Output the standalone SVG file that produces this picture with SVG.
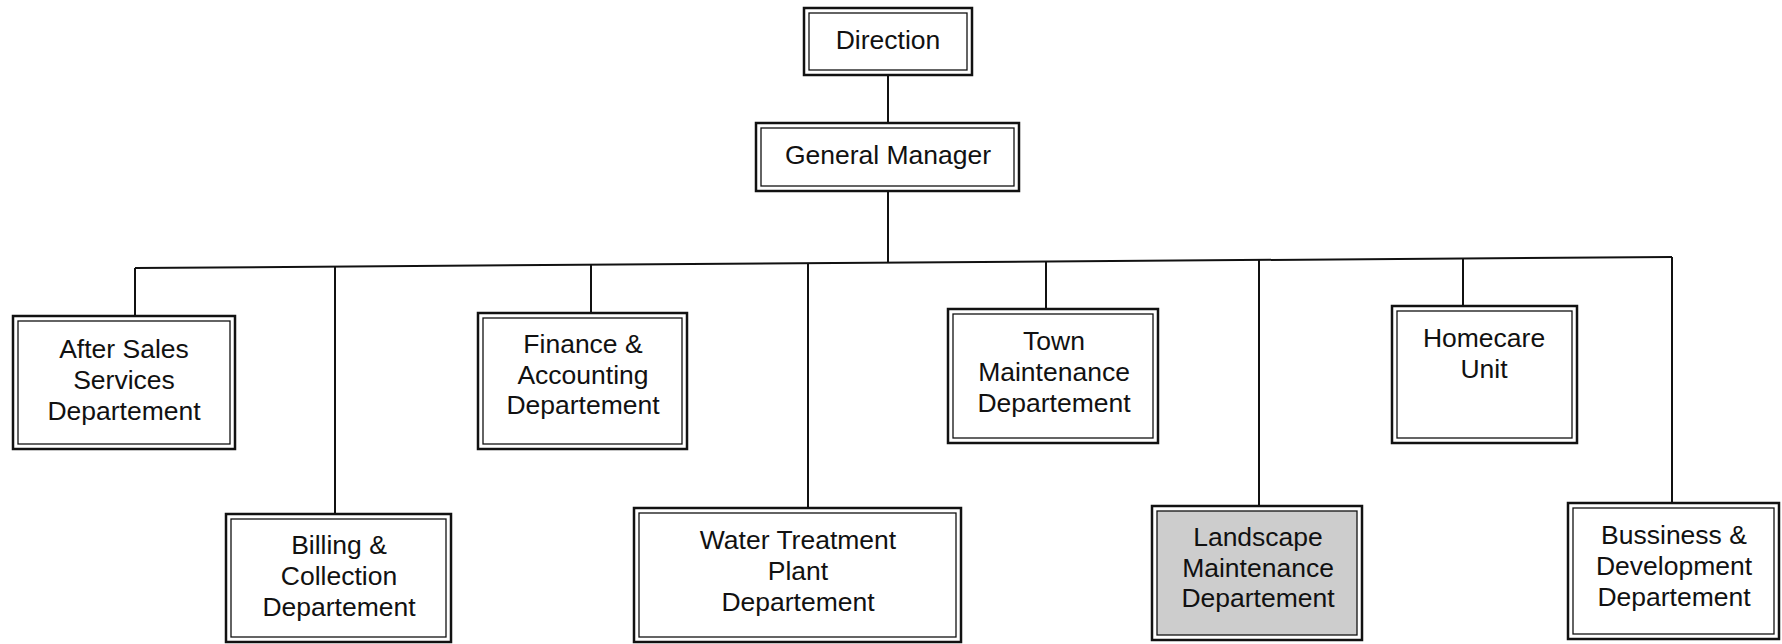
<svg xmlns="http://www.w3.org/2000/svg" width="1782" height="644" viewBox="0 0 1782 644">
<style>
.o{fill:#fff;stroke:#111;stroke-width:2.5}
.i{fill:none;stroke:#111;stroke-width:1.3}
.g{fill:#cdcdcd}
.t{font-family:"Liberation Sans",Arial,sans-serif;font-size:26.5px;fill:#111;text-anchor:middle}
.c{stroke:#111;stroke-width:2;fill:none}
</style>
<rect width="1782" height="644" fill="#fff"/>
<g id="connectors">
<line class="c" x1="888" y1="76" x2="888" y2="122"/>
<line class="c" x1="888" y1="192" x2="888" y2="262.6"/>
<line class="c" x1="135" y1="268" x2="1672" y2="257"/>
<line class="c" x1="135" y1="268" x2="135" y2="315"/>
<line class="c" x1="335" y1="266.6" x2="335" y2="513"/>
<line class="c" x1="591" y1="264.7" x2="591" y2="312"/>
<line class="c" x1="808" y1="263.2" x2="808" y2="507"/>
<line class="c" x1="1046" y1="261.5" x2="1046" y2="308"/>
<line class="c" x1="1259" y1="260" x2="1259" y2="505"/>
<line class="c" x1="1463" y1="258.5" x2="1463" y2="305"/>
<line class="c" x1="1672" y1="257" x2="1672" y2="502"/>
</g>
<g id="direction">
<rect class="o" x="804" y="8" width="168" height="67"/>
<rect class="i" x="809" y="13" width="158" height="57"/>
<text class="t" x="888" y="49">Direction</text>
</g>
<g id="general-manager">
<rect class="o" x="756" y="123" width="263" height="68"/>
<rect class="i" x="761" y="128" width="253" height="58"/>
<text class="t" x="888" y="164">General Manager</text>
</g>
<g id="after-sales">
<rect class="o" x="13" y="316" width="222" height="133"/>
<rect class="i" x="18" y="321" width="212" height="123"/>
<text class="t" x="124" y="358">After Sales</text>
<text class="t" x="124" y="389">Services</text>
<text class="t" x="124" y="420">Departement</text>
</g>
<g id="billing">
<rect class="o" x="226" y="514" width="225" height="128"/>
<rect class="i" x="231" y="519" width="215" height="118"/>
<text class="t" x="339" y="554">Billing &amp;</text>
<text class="t" x="339" y="585">Collection</text>
<text class="t" x="339" y="616">Departement</text>
</g>
<g id="finance">
<rect class="o" x="478" y="313" width="209" height="136"/>
<rect class="i" x="483" y="318" width="199" height="126"/>
<text class="t" x="583" y="353">Finance &amp;</text>
<text class="t" x="583" y="384">Accounting</text>
<text class="t" x="583" y="414">Departement</text>
</g>
<g id="water-treatment">
<rect class="o" x="634" y="508" width="327" height="134"/>
<rect class="i" x="639" y="513" width="317" height="124"/>
<text class="t" x="798" y="549">Water Treatment</text>
<text class="t" x="798" y="580">Plant</text>
<text class="t" x="798" y="611">Departement</text>
</g>
<g id="town-maintenance">
<rect class="o" x="948" y="309" width="210" height="134"/>
<rect class="i" x="953" y="314" width="200" height="124"/>
<text class="t" x="1054" y="350">Town</text>
<text class="t" x="1054" y="381">Maintenance</text>
<text class="t" x="1054" y="412">Departement</text>
</g>
<g id="landscape-maintenance">
<rect class="o" x="1152" y="506" width="210" height="134"/>
<rect class="i g" x="1157" y="511" width="200" height="124"/>
<text class="t" x="1258" y="546">Landscape</text>
<text class="t" x="1258" y="577">Maintenance</text>
<text class="t" x="1258" y="607">Departement</text>
</g>
<g id="homecare">
<rect class="o" x="1392" y="306" width="185" height="137"/>
<rect class="i" x="1397" y="311" width="175" height="127"/>
<text class="t" x="1484" y="347">Homecare</text>
<text class="t" x="1484" y="378">Unit</text>
</g>
<g id="bussiness-development">
<rect class="o" x="1568" y="503" width="211" height="136"/>
<rect class="i" x="1573" y="508" width="201" height="126"/>
<text class="t" x="1674" y="544">Bussiness &amp;</text>
<text class="t" x="1674" y="575">Development</text>
<text class="t" x="1674" y="606">Departement</text>
</g>
</svg>
